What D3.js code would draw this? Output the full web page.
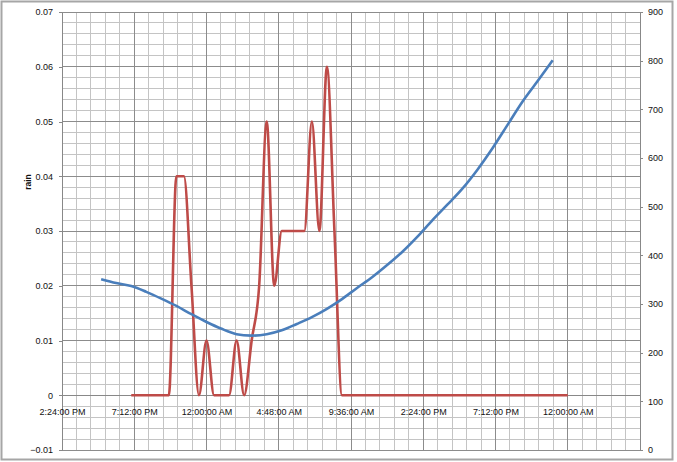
<!DOCTYPE html>
<html><head><meta charset="utf-8">
<script src="https://cdn.jsdelivr.net/npm/d3@7"></script>
<style>body{margin:0;background:#fff}text{font-family:"Liberation Sans",Arial,sans-serif}</style>
</head><body>
<svg id="c" width="677" height="462"></svg>
<script>
// ---- data ----
// x positions are hours after the axis start (2:24:00 PM)
const xTickHours = [0, 4.8, 9.6, 14.4, 19.2, 24, 28.8, 33.6];
const xTickLabels = ["2:24:00 PM", "7:12:00 PM", "12:00:00 AM", "4:48:00 AM", "9:36:00 AM", "2:24:00 PM", "7:12:00 PM", "12:00:00 AM"];
const leftTicks = [-0.01, 0, 0.01, 0.02, 0.03, 0.04, 0.05, 0.06, 0.07];
const rightTicks = [0, 100, 200, 300, 400, 500, 600, 700, 800, 900];

// rain (left axis), half-hourly from 7:00 PM
const rainStartHour = 4.6, rainStepHours = 0.5;
const rainValues = [0, 0, 0, 0, 0, 0, 0.04, 0.04, 0.02, 0, 0.01, 0, 0, 0, 0.01, 0, 0.01, 0.02, 0.05, 0.02,
  0.03, 0.03, 0.03, 0.03, 0.05, 0.03, 0.06, 0.03, 0,
  0, 0, 0, 0, 0, 0, 0, 0, 0, 0, 0, 0, 0, 0, 0, 0, 0, 0, 0, 0, 0, 0, 0, 0, 0, 0, 0, 0, 0, 0];

// second series (right axis), hourly from 5:00 PM
const tempStartHour = 2.6, tempStepHours = 1;
const tempValues = [351, 343, 337, 325, 311, 296, 279, 263, 249, 238, 235, 238, 246, 259, 273, 290, 310, 333, 355, 380,
  407, 438, 472, 504, 537, 576, 620, 668, 716, 758, 801];

// ---- chart ----
const svg = d3.select("#c");
const L = 62, R = 640, T = 12, B = 450;
const x = d3.scaleLinear().domain([0, 38.4]).range([L, R]);
const yL = d3.scaleLinear().domain([-0.01, 0.07]).range([B, T]);
const yR = d3.scaleLinear().domain([0, 900]).range([B, T]);

// outer frame
svg.append("rect").attr("x", 1.5).attr("y", 1.5).attr("width", 671).attr("height", 458)
  .attr("fill", "#fff").attr("stroke", "#a6a6a6").attr("stroke-width", 2);

const grid = svg.append("g").attr("shape-rendering", "crispEdges");
const minorX = d3.range(0, 41).map(i => i * 0.96);
const minorY = d3.range(0, 41).map(i => -0.01 + i * 0.002);
grid.selectAll(".mx").data(minorX).join("line")
  .attr("x1", d => x(d)).attr("x2", d => x(d)).attr("y1", T).attr("y2", B)
  .attr("stroke", "#c4c4c4").attr("stroke-width", 1);
grid.selectAll(".my").data(minorY).join("line")
  .attr("x1", L).attr("x2", R).attr("y1", d => yL(d)).attr("y2", d => yL(d))
  .attr("stroke", "#c4c4c4").attr("stroke-width", 1);
grid.selectAll(".Mx").data(d3.range(0, 9).map(i => i * 4.8)).join("line")
  .attr("x1", d => x(d)).attr("x2", d => x(d)).attr("y1", T).attr("y2", B)
  .attr("stroke", "#8c8c8c").attr("stroke-width", 1);
grid.selectAll(".My").data(leftTicks).join("line")
  .attr("x1", L).attr("x2", R).attr("y1", d => yL(d)).attr("y2", d => yL(d))
  .attr("stroke", "#8c8c8c").attr("stroke-width", 1);

function styleAxis(g) {
  g.attr("shape-rendering", "crispEdges");
  g.selectAll("path,line").attr("stroke", "#888");
  g.selectAll("text").attr("font-size", 9).attr("fill", "#111")
    .attr("font-family", "'Liberation Sans', Arial, sans-serif");
}

const fmtL = v => v === 0 ? "0" : d3.format(".2f")(v);
svg.append("g").attr("transform", `translate(${L},0)`)
  .call(d3.axisLeft(yL).tickValues(leftTicks).tickFormat(fmtL).tickSize(3).tickSizeOuter(0).tickPadding(6))
  .call(styleAxis);
svg.append("g").attr("transform", `translate(${R},0)`)
  .call(d3.axisRight(yR).tickValues(rightTicks).tickFormat(d3.format("d")).tickSize(3).tickSizeOuter(0).tickPadding(5))
  .call(styleAxis);
svg.append("g").attr("transform", `translate(0,${yL(0)})`)
  .call(d3.axisBottom(x).tickValues(xTickHours).tickFormat((d, i) => xTickLabels[i]).tickSize(0).tickSizeOuter(0).tickPadding(13.5))
  .call(styleAxis);

svg.append("text").attr("transform", "translate(31,182) rotate(-90)")
  .attr("text-anchor", "middle").attr("font-size", 8.5).attr("font-weight", "bold").attr("fill", "#111")
  .text("rain");

const rainPts = rainValues.map((v, i) => [rainStartHour + i * rainStepHours, v]);
const tempPts = tempValues.map((v, i) => [tempStartHour + i * tempStepHours, v]);

svg.append("path").datum(rainPts)
  .attr("d", d3.line().x(d => x(d[0])).y(d => yL(d[1])).curve(d3.curveMonotoneX))
  .attr("fill", "none").attr("stroke", "#be4b48").attr("stroke-width", 2.6).attr("stroke-linejoin", "round");
svg.append("path").datum(tempPts)
  .attr("d", d3.line().x(d => x(d[0])).y(d => yR(d[1])).curve(d3.curveCatmullRom.alpha(0)))
  .attr("fill", "none").attr("stroke", "#4a7ebb").attr("stroke-width", 2.6).attr("stroke-linejoin", "round");
</script>
</body></html>
